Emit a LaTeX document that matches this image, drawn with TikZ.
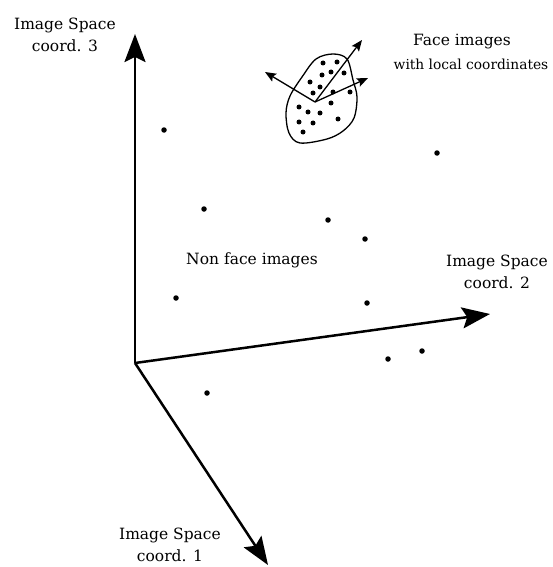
\documentclass[tikz,border=0pt]{standalone}
\usepackage{fontspec}
\setmainfont{DejaVu Serif}
\usetikzlibrary{arrows.meta}
\tikzset{
  axis/.style={line width=2.5pt,-{Stealth[length=28pt,width=21pt,inset=5pt]}},
  loc/.style={line width=1.3pt,-{Stealth[length=11pt,width=9pt,inset=2pt]}},
  pt/.style={circle,fill=black,inner sep=0pt,minimum size=5.5pt},
  lbl/.style={align=center,font=\fontsize{15.5}{22}\selectfont,inner sep=0pt},
}
\begin{document}
\begin{tikzpicture}[x=1pt,y=-1pt]
\useasboundingbox (0,0) rectangle (553,567);
% axes
\coordinate (O) at (135,363);
\coordinate (A3) at (135,34);
\coordinate (A2) at (490,314);
\coordinate (A1) at (268,565);
\draw[axis] (O) -- (A3);
\draw[axis] (O) -- (A2);
\draw[axis] (O) -- (A1);
% labels
\node[lbl] (l3) at (65,35) {Image Space\\coord. 3};
\node[lbl] (l2) at (497,272) {Image Space\\coord. 2};
\node[lbl] (l1) at (170,545) {Image Space\\coord. 1};
\node[lbl] (nf) at (252,260) {Non face images};
\node[lbl] (fi) at (462,42) {Face images};
\node[lbl,font=\fontsize{13.8}{16}\selectfont] (wl) at (471,64) {with local coordinates};
% scattered non-face points
\foreach \p [count=\i] in {(164,130),(437,153),(204,209),(328,220),(365,239),(176,298),(367,303),(422,351),(388,359),(207,393)}
  \node[pt] (n\i) at \p {};
% face cluster blob
\draw[line width=1.3pt] plot[smooth cycle,tension=0.55] coordinates
  {(333,54) (347,59) (353,80) (357,97) (354,118) (343,131) (327,139) (300,143) (289,133) (286,113) (290,96) (302,77) (316,59)};
\foreach \p [count=\i] in {(323,63),(337,62),(331,72),(322,75),(344,73),(310,82),(320,87),(313,93),(333,92),(350,92),(331,103),(299,107),(308,112),(320,113),(299,122),(313,123),(338,119),(303,132)}
  \node[pt,minimum size=5pt] (f\i) at \p {};
% local coordinate arrows
\coordinate (c0) at (315,102);
\coordinate (c1) at (265,72);
\coordinate (c2) at (362,40);
\coordinate (c3) at (368,78);
\draw[loc] (c0) -- (c1);
\draw[loc] (c0) -- (c2);
\draw[loc] (c0) -- (c3);
\end{tikzpicture}
\end{document}
